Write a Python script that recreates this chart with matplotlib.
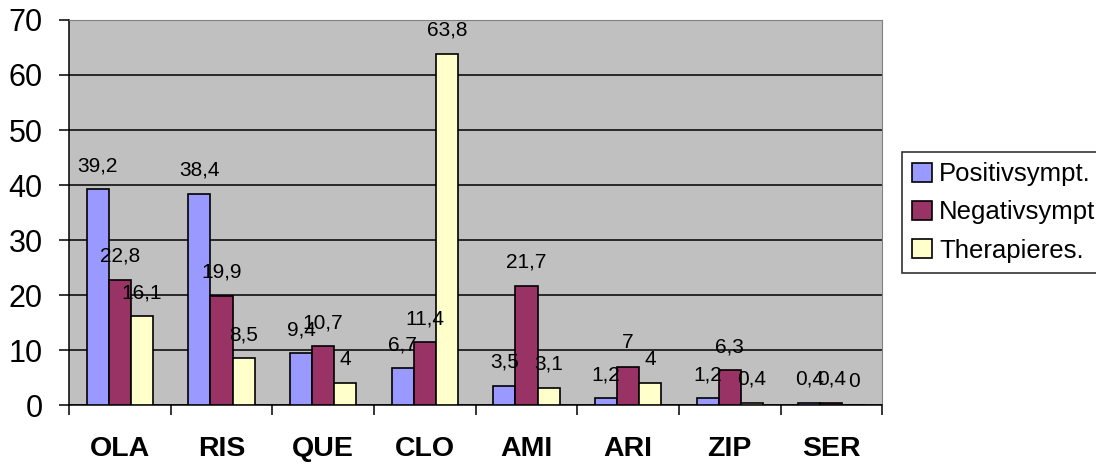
import numpy as np
import matplotlib.pyplot as plt

plt.rcParams['font.family'] = ['Liberation Sans', 'DejaVu Sans']

kategorien = ["OLA", "RIS", "QUE", "CLO", "AMI", "ARI", "ZIP", "SER"]
positiv = [39.2, 38.4, 9.4, 6.7, 3.5, 1.2, 1.2, 0.4]
negativ = [22.8, 19.9, 10.7, 11.4, 21.7, 7, 6.3, 0.4]
therapie = [16.1, 8.5, 4, 63.8, 3.1, 4, 0.4, 0]
namen = ["Positivsympt.", "Negativsympt", "Therapieres."]
farben = ["#9999FF", "#993366", "#FFFFCC"]

def fmt(v):
    s = "%g" % v
    return s.replace(".", ",")

fig = plt.figure(figsize=(10.96, 4.65), dpi=100)
ax = fig.add_axes([0.063, 0.129, 0.742, 0.828])
ax.set_facecolor("#C0C0C0")

x = np.arange(len(kategorien))
w = 0.217
serien = [positiv, negativ, therapie]
for i, (werte, farbe, name) in enumerate(zip(serien, farben, namen)):
    pos = x + (i - 1) * w
    ax.bar(pos, werte, w, color=farbe, edgecolor="black", linewidth=1.2,
           label=name, zorder=3)
    for xp, v in zip(pos, werte):
        ax.annotate(fmt(v), (xp, v), xytext=(0, 17), textcoords="offset points",
                    ha="center", va="center", fontsize=15, zorder=4)

ax.set_xlim(-0.5, len(kategorien) - 0.5)
ax.set_ylim(0, 70)
ax.set_yticks(range(0, 71, 10))
ax.yaxis.grid(True, color="black", linewidth=1.1, zorder=0)
ax.set_axisbelow(True)

ax.set_xticks(x)
ax.set_xticklabels(kategorien, fontsize=20.5, fontweight="bold")
ax.tick_params(axis="x", which="major", length=0, pad=22)
ax.set_xticks(np.arange(-0.5, len(kategorien)), minor=True)
ax.tick_params(axis="x", which="minor", length=7, width=1.1, direction="out")
ax.tick_params(axis="y", labelsize=22, length=7, width=1.1, pad=12)

for s in ["top", "right"]:
    ax.spines[s].set_color("#808080")
for s in ["left", "bottom"]:
    ax.spines[s].set_color("black")
    ax.spines[s].set_linewidth(1.1)

leg = fig.legend(loc="upper left", bbox_to_anchor=(0.823, 0.673), fontsize=18.5,
                 frameon=True, fancybox=False, edgecolor="black",
                 handlelength=0.75, handleheight=0.75, handletextpad=0.3,
                 labelspacing=0.55, borderpad=0.4, borderaxespad=0)
leg.get_frame().set_linewidth(1.2)

fig.savefig("out.png", dpi=100)
